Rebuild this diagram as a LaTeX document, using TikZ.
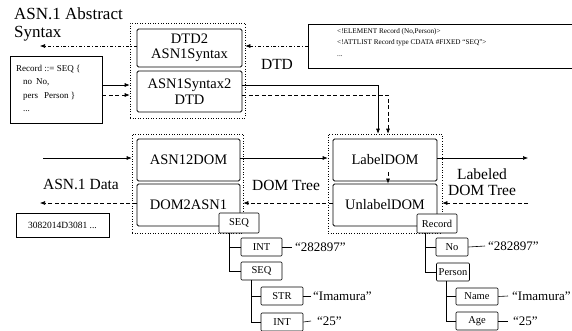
\documentclass[tikz,border=0pt]{standalone}
\usepackage{fontspec}
\setmainfont{Liberation Serif}
\usetikzlibrary{arrows.meta,calc}
\begin{document}
\begin{tikzpicture}[x=1pt,y=-1pt,
  bigbox/.style={draw, line width=0.8pt, rounded corners=1.5pt, inner sep=0pt, align=center, fill=white, font=\fontsize{14.5}{15.5}\selectfont},
  grp/.style={draw, dotted, line width=0.6pt, inner sep=0pt},
  tnode/.style={draw, line width=0.6pt, rounded corners=1pt, fill=white, inner sep=0pt, font=\fontsize{10.5}{11}\selectfont, minimum height=18pt},
  val/.style={anchor=west, inner sep=0pt, font=\fontsize{13}{13}\selectfont},
  lbl/.style={inner sep=0pt, align=center, font=\fontsize{15.5}{16.5}\selectfont},
  arr/.style={-{Latex[length=5pt,width=4pt]}, line width=0.6pt},
  dsh/.style={dash pattern=on 4pt off 2.5pt},
  ddot/.style={dash pattern=on 3pt off 2pt on 0.8pt off 2pt},
  tline/.style={line width=0.6pt},
  txtbox/.style={draw, line width=0.7pt, inner sep=0pt}
]
\useasboundingbox (0,0) rectangle (572,330);
\clip (0,0) rectangle (572,330);

% groups
\node[grp, minimum width=115pt, minimum height=95pt] (gtop) at (187.5,70.5) {};
\node[grp, minimum width=111pt, minimum height=99pt] (glft) at (187.5,183.5) {};
\node[grp, minimum width=114pt, minimum height=99pt] (grgt) at (385,183.5) {};

% main boxes
\node[bigbox, minimum width=105pt, minimum height=38pt] (d2a) at (189.5,48) {DTD2\\ASN1Syntax};
\node[bigbox, minimum width=105pt, minimum height=41pt] (a2d) at (189.5,91.5) {ASN1Syntax2\\DTD};
\node[bigbox, minimum width=103pt, minimum height=42pt] (a2dom) at (188.5,160) {ASN12DOM};
\node[bigbox, minimum width=103pt, minimum height=42pt] (dom2a) at (188.5,205) {DOM2ASN1};
\node[bigbox, minimum width=104pt, minimum height=42pt] (ldom) at (385,160) {LabelDOM};
\node[bigbox, minimum width=104pt, minimum height=42pt] (udom) at (385,205) {UnlabelDOM};

% text boxes
\node[txtbox, minimum width=92pt, minimum height=67pt] (rec) at (56,89.5) {};
\node[anchor=north west, inner sep=0pt, align=left, font=\fontsize{9}{13.5}\selectfont] (rectxt) at (16,65)
  {Record ::= SEQ \{\\\hspace*{7pt}no\hspace{4pt}No,\\\hspace*{7pt}pers\hspace{6pt}Person \}\\\hspace*{7pt}...};
\node[txtbox, minimum width=93pt, minimum height=24pt, font=\fontsize{9.5}{10}\selectfont] (hexb) at (62.5,225) {3082014D3081 ...};
\node[txtbox, minimum width=272pt, minimum height=44pt] (dtdb) at (444,46) {};
\node[anchor=north west, inner sep=0pt, align=left, font=\fontsize{7.2}{11.5}\selectfont] (dtdtxt) at (337,28)
  {<!ELEMENT Record (No,Person)>\\<!ATTLIST Record type CDATA \#FIXED ``SEQ''>\\...};

% labels
\node[inner sep=0pt, align=left, anchor=north west, font=\fontsize{17}{18}\selectfont] (absl) at (14,8) {ASN.1 Abstract\\Syntax};
\node[lbl] (dtdl) at (277,64) {DTD};
\node[lbl] (datal) at (81,184) {ASN.1 Data};
\node[lbl] (doml) at (286,185) {DOM Tree};
\node[lbl] (ldoml) at (482,182) {Labeled\\DOM Tree};

% connectors top
\coordinate (synend) at (40,46);
\coordinate (dtdrow) at (300,46);
\draw[arr, ddot] (dtdb.west |- dtdrow) -- (gtop.east |- dtdrow);
\draw[arr, ddot] (d2a.west |- dtdrow) -- (synend);

\coordinate (ra) at (378,85);
\coordinate (rb) at (388,95);
\draw[arr] (rec.east |- ra) -- (gtop.west |- ra);
\draw[arr, dsh] (rec.east |- rb) -- (gtop.west |- rb);
\draw[arr] (a2d.east |- ra) -- (ra) -- (ra |- grgt.north);
\draw[arr, dsh] (a2d.east |- rb) -- (rb) -- (rb |- grgt.north);
\coordinate (rc) at (388,172);
\draw[arr, dsh] (rc) -- (rc |- udom.north);

% rows
\coordinate (inA) at (43,158);
\coordinate (outA) at (528,158);
\draw[arr] (inA) -- (glft.west |- inA);
\draw[arr] (a2dom.east |- inA) -- (grgt.west |- inA);
\draw[arr] (ldom.east |- inA) -- (outA);
\coordinate (inB) at (528,203);
\coordinate (outB) at (40,203);
\draw[arr, dsh] (inB) -- (grgt.east |- inB);
\draw[arr, dsh] (udom.west |- inB) -- (glft.east |- inB);
\draw[arr, dsh] (dom2a.west |- inB) -- (outB);

% left tree
\node[tnode, minimum width=40pt, minimum height=20pt] (lseq) at (239,223) {SEQ};
\node[tnode, minimum width=41pt] (lint1) at (261.5,247) {INT};
\node[tnode, minimum width=41pt] (lseq2) at (261.5,271) {SEQ};
\node[tnode, minimum width=42pt] (lstr) at (282,296) {STR};
\node[tnode, minimum width=42pt] (lint2) at (282,322) {INT};
\node[val] (lv1) at (295,247) {``282897''};
\node[val] (lv2) at (313,296) {``Imamura''};
\node[val] (lv3) at (317,321) {``25''};
\coordinate (lt1) at (229,0);
\coordinate (lt2) at (251,0);
\draw[tline] (lseq.south -| lt1) |- (lint1.west);
\draw[tline] (lseq.south -| lt1) |- (lseq2.west);
\draw[tline] (lseq2.south -| lt2) |- (lstr.west);
\draw[tline] (lseq2.south -| lt2) |- (lint2.west);
\draw[tline] (lint1.east) -- ([xshift=-3pt]lv1.west);
\draw[tline] (lstr.east) -- ([xshift=-2pt]lv2.west);
\draw[tline] (lint2.east) -- ([xshift=-6pt]lv3.west);

% right tree
\node[tnode, minimum width=40pt, minimum height=19pt] (rrec) at (437,223.5) {Record};
\node[tnode, minimum width=32pt] (rno) at (452,247) {No};
\node[tnode, minimum width=33pt] (rper) at (453,272) {Person};
\node[tnode, minimum width=42pt, minimum height=17pt] (rname) at (477,296.5) {Name};
\node[tnode, minimum width=42pt] (rage) at (477,321) {Age};
\node[val] (rv1) at (488,246) {``282897''};
\node[val] (rv2) at (512,296) {``Imamura''};
\node[val] (rv3) at (513,321) {``25''};
\coordinate (rt1) at (425,0);
\coordinate (rt2) at (446,0);
\draw[tline] (rrec.south -| rt1) |- (rno.west);
\draw[tline] (rrec.south -| rt1) |- (rper.west);
\draw[tline] (rper.south -| rt2) |- (rname.west);
\draw[tline] (rper.south -| rt2) |- (rage.west);
\draw[tline] (rno.east) -- ([xshift=-3pt]rv1.west);
\draw[tline] (rname.east) -- ([xshift=-4pt]rv2.west);
\draw[tline] (rage.east) -- ([xshift=-5pt]rv3.west);
\end{tikzpicture}
\end{document}
